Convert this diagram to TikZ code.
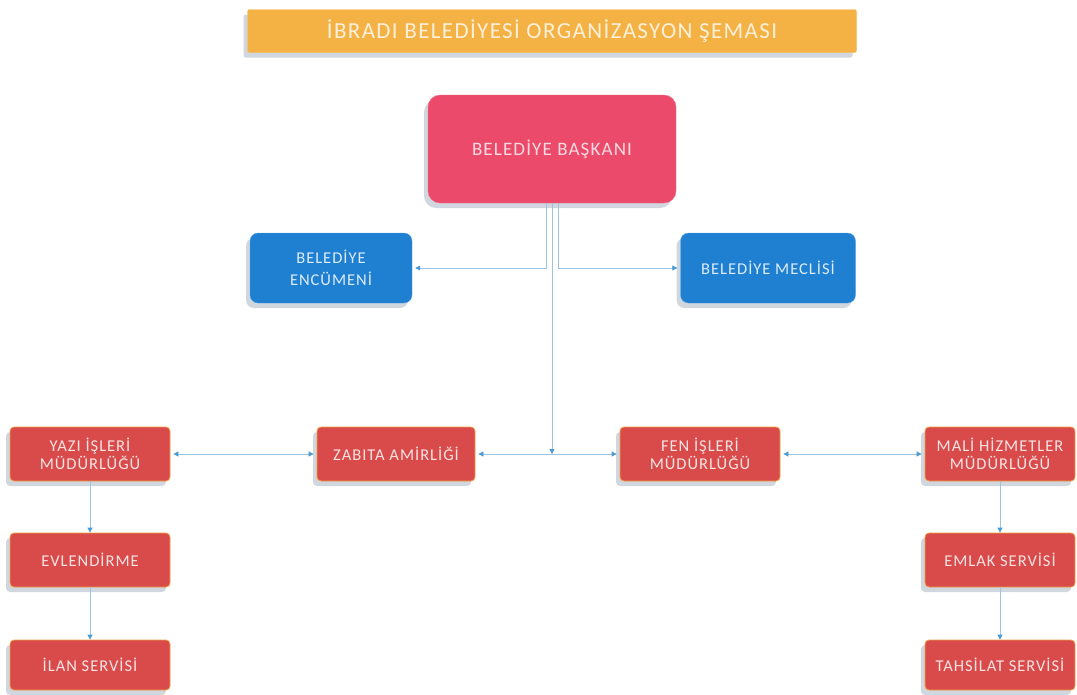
\documentclass[tikz,border=0pt]{standalone}
\usepackage{fontspec}
\setmainfont{Carlito}
\newfontfamily\etiq[LetterSpace=6.0]{Carlito}
\usepackage{tikz}
\usepackage{xcolor}
\usetikzlibrary{shadows,arrows.meta}

\definecolor{naranja}{HTML}{F5B244}
\definecolor{rosa}{HTML}{EC4A6B}
\definecolor{azul}{HTML}{1F7FD1}
\definecolor{rojo}{HTML}{D94A4A}
\definecolor{borde}{HTML}{EFA040}
\definecolor{linea}{HTML}{9CC4E0}
\definecolor{punta}{HTML}{4A9AD6}
\definecolor{sombra}{HTML}{9AA6B8}

\tikzset{
    sombreado/.style={drop shadow={shadow xshift=-4pt, shadow yshift=-5pt, fill=sombra, opacity=0.45}},
    titulo/.style={rectangle, rounded corners=2pt, fill=naranja, draw=naranja!85!white, minimum width=609pt, minimum height=43pt, text=white!80!naranja, font=\etiq\fontsize{23}{26}\selectfont, sombreado},
    presidente/.style={rectangle, rounded corners=12pt, fill=rosa, draw=rosa!80!white, minimum width=248pt, minimum height=108pt, text=white!80!rosa, font=\etiq\fontsize{19}{22}\selectfont, sombreado},
    consejo/.style={rectangle, rounded corners=8pt, fill=azul, draw=azul!70!white, minimum width=162pt, minimum height=70pt, align=center, text=white!85!azul, font=\etiq\fontsize{16.5}{22}\selectfont, sombreado},
    caja/.style={rectangle, rounded corners=4pt, fill=rojo, draw=borde, line width=0.8pt, minimum width=158pt, minimum height=54pt, inner sep=2pt, align=center, text=white!85!rojo, font=\etiq\fontsize{16.5}{18.5}\selectfont, sombreado},
    flecha/.style={draw=linea, line width=0.8pt, -{Triangle[length=5pt,width=5pt,color=punta]}},
    doble/.style={draw=linea, line width=0.8pt, {Triangle[length=5pt,width=5pt,color=punta]}-{Triangle[length=5pt,width=5pt,color=punta]}, shorten <=3pt, shorten >=3pt}
}

\begin{document}
\begin{tikzpicture}[x=1pt,y=-1pt]
        % Marco de la figura
        \useasboundingbox (0,0) rectangle (1077,694);

        % Titulo del esquema
        \node[titulo] (titulo) at (552,31) {İBRADI BELEDİYESİ ORGANİZASYON ŞEMASI};

        % Presidente
        \node[presidente] (baskan) at (552,149) {BELEDİYE BAŞKANI};

        % Consejos (encumen a la izquierda, meclis a la derecha)
        \node[consejo] (encumen) at (331,268) {BELEDİYE\\ENCÜMENİ};
        \node[consejo, minimum width=175pt] (meclis) at (768,268) {BELEDİYE MECLİSİ};

        % Direcciones en la fila inferior
        \node[caja, minimum width=160pt] (yazi) at (90,454) {YAZI İŞLERİ\\MÜDÜRLÜĞÜ};
        \node[caja] (zabita) at (396,454) {ZABITA AMİRLİĞİ};
        \node[caja, minimum width=160pt] (fen) at (700,454) {FEN İŞLERİ\\MÜDÜRLÜĞÜ};
        \node[caja, minimum width=150pt] (mali) at (1000,454) {MALİ HİZMETLER\\MÜDÜRLÜĞÜ};

        % Servicios bajo cada direccion
        \node[caja, minimum width=160pt] (evlen) at (90,560) {EVLENDİRME};
        \node[caja, minimum width=160pt, minimum height=50pt] (ilan) at (90,665) {İLAN SERVİSİ};
        \node[caja, minimum width=150pt] (emlak) at (1000,560) {EMLAK SERVİSİ};
        \node[caja, minimum width=150pt, minimum height=50pt] (tahsilat) at (1000,665) {TAHSİLAT SERVİSİ};

        % Lineas desde el presidente
        \coordinate (cruce) at (baskan.south |- zabita.east);
        \draw[flecha] ([xshift=-6pt]baskan.south) |- ([xshift=3pt]encumen.east);
        \draw[flecha] ([xshift=6pt]baskan.south) |- ([xshift=-3pt]meclis.west);
        \draw[flecha] (baskan.south) -- (cruce);

        % Conexiones de la fila inferior
        \draw[doble] (yazi.east) -- (zabita.west);
        \draw[doble] (zabita.east) -- (fen.west);
        \draw[doble] (fen.east) -- (mali.west);

        % Conexiones verticales
        \draw[flecha] (yazi.south) -- (evlen.north);
        \draw[flecha] (evlen.south) -- (ilan.north);
        \draw[flecha] (mali.south) -- (emlak.north);
        \draw[flecha] (emlak.south) -- (tahsilat.north);
    \end{tikzpicture}
\end{document}
